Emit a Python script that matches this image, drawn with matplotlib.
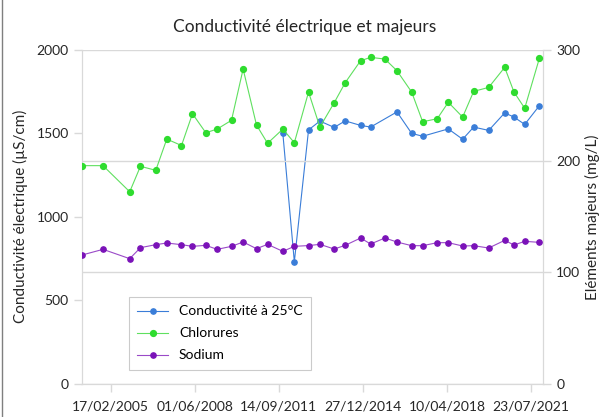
import datetime as dt
import numpy as np
import matplotlib
matplotlib.use("Agg")
import matplotlib.pyplot as plt
import matplotlib.dates as mdates
from matplotlib.lines import Line2D

plt.rcParams['font.family'] = ['Lato', 'DejaVu Sans']

# dates de prélèvement
dates = ["2004-01-04", "2004-10-30", "2005-11-15", "2006-04-17", "2006-11-22",
         "2007-04-28", "2007-11-24", "2008-04-29", "2008-11-05", "2009-04-16",
         "2009-11-07", "2010-04-22", "2010-10-30", "2011-04-06", "2011-11-10",
         "2012-04-22", "2012-11-11", "2013-04-22", "2013-11-12", "2014-04-18",
         "2014-11-24", "2015-04-16", "2015-11-06", "2016-04-26", "2016-11-22",
         "2017-04-28", "2017-11-22", "2018-04-29", "2018-11-20", "2019-04-26",
         "2019-11-27", "2020-07-12", "2020-11-22", "2021-04-24", "2021-11-19"]

# conductivité à 25°C (µS/cm), pas de mesure avant fin 2011
conductivite = [None] * 14 + [1500, 730, 1521, 1574, 1536, 1575, 1548, 1538, None,
                              1629, 1500, 1483, None, 1527, 1465, 1538, 1518,
                              1623, 1598, 1554, 1666]

# chlorures (mg/L)
chlorures = [196, 196, 172.5, 195.4, 191.8, 219.9, 214.1, 242.7, 225.6, 228.9,
             236.8, 282.9, 232.5, 216.1, 228.9, 216.6, 262.2, 230.7, 252.6, 270.6,
             290.4, 293.4, 291.9, 281.4, 262.2, 235.5, 238.2, 253.0, 239.7, 262.8,
             266.4, 284.4, 262.2, 247.6, 292.5]

# sodium (mg/L)
sodium = [115.6, 120.7, 112.3, 122.2, 124.9, 126.4, 124.9, 123.4, 124.3, 120.7,
          123.4, 127.3, 121.3, 125.2, 118.9, 123.4, 124.1, 125.2, 121.0, 124.3,
          130.9, 125.5, 130.9, 127.3, 124.0, 124.0, 126.7, 126.7, 123.7, 124.0,
          121.9, 128.8, 124.6, 127.9, 127.0]

tick_dates = ["2005-02-17", "2008-06-01", "2011-09-14",
              "2014-12-27", "2018-04-10", "2021-07-23"]

x = [dt.datetime.strptime(d, "%Y-%m-%d") for d in dates]
xc = [xi for xi, v in zip(x, conductivite) if v is not None]
yc = [v for v in conductivite if v is not None]
xt = [dt.datetime.strptime(d, "%Y-%m-%d") for d in tick_dates]

blue = '#3a7dd8'
green = '#2fdc2f'
purple = '#7a12b8'
grid = '#d9d9d9'
txt = '#262626'

fig = plt.figure(figsize=(6, 4.17), dpi=100)
ax = fig.add_axes([0.1367, 0.0803, 0.905 - 0.1367, 0.880 - 0.0803])
ax2 = ax.twinx()

l1, = ax.plot(xc, yc, color=blue, lw=0.8, marker='o', ms=3.8,
              label='Conductivité à 25°C', zorder=3)
l2, = ax2.plot(x, chlorures, color='#5fe05f', lw=0.8, marker='o', ms=4.2,
               mfc=green, mec=green, label='Chlorures', zorder=3)
l3, = ax2.plot(x, sodium, color='#9a4ac8', lw=0.8, marker='o', ms=3.8,
               mfc=purple, mec=purple, label='Sodium', zorder=3)

ax.set_ylim(0, 2000)
ax.set_yticks([0, 500, 1000, 1500, 2000])
ax2.set_ylim(0, 300)
ax2.set_yticks([0, 100, 200, 300])
ax2.yaxis.grid(True, color=grid, lw=1)
ax2.set_axisbelow(True)

ax.set_xlim(dt.datetime(2004, 1, 4), dt.datetime(2022, 1, 10))
ax.set_xticks(xt)
ax.xaxis.set_major_formatter(mdates.DateFormatter("%d/%m/%Y"))

for a in (ax, ax2):
    for s in a.spines.values():
        s.set_color(grid)
    a.spines['top'].set_visible(False)
    a.tick_params(colors=grid, labelcolor=txt, labelsize=10, length=6, width=1)
ax.tick_params(axis='x', pad=6)

ax.set_ylabel('Conductivité électrique (µS/cm)', fontsize=11, color=txt, labelpad=6)
ax2.set_ylabel('Eléments majeurs (mg/L)', fontsize=11, color=txt, labelpad=3)
fig.text(0.508, 0.935, 'Conductivité électrique et majeurs', ha='center',
         va='center', fontsize=12.5, color=txt)

leg = ax2.legend(handles=[l1, l2, l3], loc='upper left',
                 bbox_to_anchor=(0.102, 0.259), borderaxespad=0,
                 fontsize=10, frameon=True, fancybox=False, handlelength=2.2,
                 labelspacing=0.72, borderpad=0.6, handletextpad=0.8)
leg.get_frame().set_edgecolor('#bfbfbf')
leg.get_frame().set_linewidth(0.8)

fig.add_artist(Line2D([0.004, 0.004], [0, 1], color='#7f7f7f', lw=1))

fig.savefig('out.png', dpi=100)
